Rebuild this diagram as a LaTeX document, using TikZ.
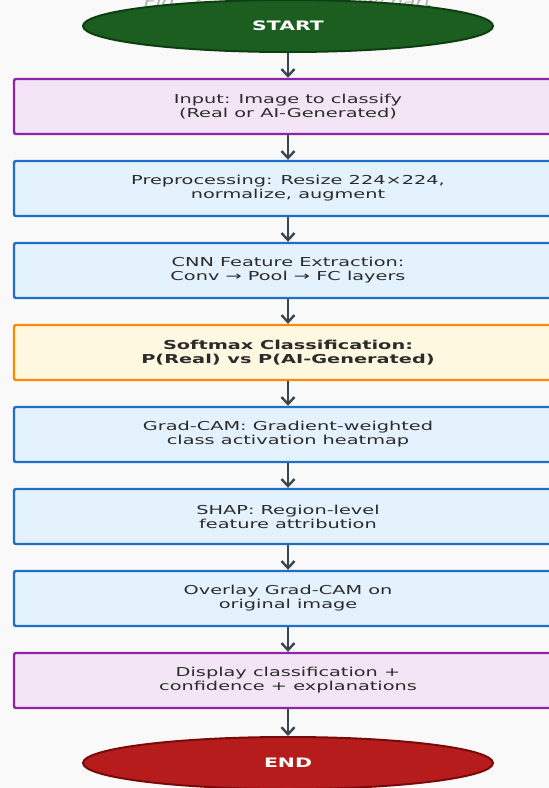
\documentclass[tikz,border=0pt]{standalone}
\usepackage{fontspec}
\setmainfont{DejaVu Sans}
\newfontfamily\dv[FakeStretch=1.57]{DejaVu Sans}
\usetikzlibrary{arrows.meta,shapes.geometric}
\definecolor{bgc}{HTML}{F9F9F9}
\definecolor{txtc}{HTML}{2B2B2B}
\definecolor{arrc}{HTML}{37474F}
\definecolor{startfill}{HTML}{1B5E20}
\definecolor{startdraw}{HTML}{0E3F12}
\definecolor{endfill}{HTML}{B71C1C}
\definecolor{enddraw}{HTML}{7A0A0A}
\definecolor{purfill}{HTML}{F3E5F5}
\definecolor{purdraw}{HTML}{8E24AA}
\definecolor{bluefill}{HTML}{E3F2FD}
\definecolor{bluedraw}{HTML}{1E6FC8}
\definecolor{orfill}{HTML}{FFF8E1}
\definecolor{ordraw}{HTML}{FB8C00}
\tikzset{
  term/.style={ellipse, minimum width=410pt, minimum height=52pt, inner sep=0pt, line width=2pt, text=white, font=\dv\bfseries\fontsize{13}{14}\selectfont},
  stepbox/.style={rectangle, rounded corners=2pt, minimum width=548pt, minimum height=55pt, inner sep=0pt, line width=2.4pt},
  purbox/.style={stepbox, fill=purfill, draw=purdraw},
  bluebox/.style={stepbox, fill=bluefill, draw=bluedraw},
  orbox/.style={stepbox, fill=orfill, draw=ordraw},
  txt/.style={align=center, text=txtc, inner sep=0pt, font=\dv\fontsize{12.3}{14}\selectfont},
  arr/.style={draw=arrc, line width=2.4pt, -{Straight Barb[length=7pt,width=13pt,line width=2.4pt]}},
  titlestyle/.style={text=gray!60, inner sep=0pt, anchor=base, font=\dv\itshape\fontsize{13}{14}\selectfont}
}
\begin{document}
\begin{tikzpicture}[x=1pt,y=-1pt]
\useasboundingbox (0,0) rectangle (549,788);
\fill[bgc] (0,0) rectangle (549,788);
\node[titlestyle] (title) at (288,6) {Fig. 2 – Algorithm Flowchart};
\node[term, fill=startfill, draw=startdraw] (start) at (288,26) {START};
\node[purbox] (b1) at (288,106.5) {};
\node[txt] (t1) at (b1) {Input: Image to classify\\(Real or AI-Generated)};
\node[bluebox] (b2) at (288,188.5) {};
\node[txt] (t2) at (b2) {Preprocessing: Resize 224×224,\\normalize, augment};
\node[bluebox] (b3) at (288,270.5) {};
\node[txt] (t3) at (b3) {CNN Feature Extraction:\\Conv → Pool → FC layers};
\node[orbox] (b4) at (288,352.5) {};
\node[txt, font=\dv\bfseries\fontsize{12.3}{14}\selectfont] (t4) at (b4) {Softmax Classification:\\P(Real) vs P(AI-Generated)};
\node[bluebox] (b5) at (288,434.5) {};
\node[txt] (t5) at (b5) {Grad-CAM: Gradient-weighted\\class activation heatmap};
\node[bluebox] (b6) at (288,516.5) {};
\node[txt] (t6) at (b6) {SHAP: Region-level\\feature attribution};
\node[bluebox] (b7) at (288,598.5) {};
\node[txt] (t7) at (b7) {Overlay Grad-CAM on\\original image};
\node[purbox] (b8) at (288,680.5) {};
\node[txt] (t8) at (b8) {Display classification +\\confidence + explanations};
\node[term, fill=endfill, draw=enddraw] (end) at (288,763) {END};
\draw[arr] (start.south) -- (b1.north);
\draw[arr] (b1.south) -- (b2.north);
\draw[arr] (b2.south) -- (b3.north);
\draw[arr] (b3.south) -- (b4.north);
\draw[arr] (b4.south) -- (b5.north);
\draw[arr] (b5.south) -- (b6.north);
\draw[arr] (b6.south) -- (b7.north);
\draw[arr] (b7.south) -- (b8.north);
\draw[arr] (b8.south) -- (end.north);
\end{tikzpicture}
\end{document}
